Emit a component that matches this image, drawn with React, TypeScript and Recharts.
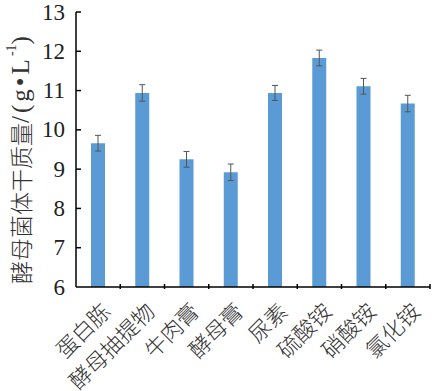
import { BarChart, Bar, XAxis, YAxis, ErrorBar } from 'recharts';

const categories = ['蛋白胨', '酵母抽提物', '牛肉膏', '酵母膏', '尿素', '硫酸铵', '硝酸铵', '氯化铵'];
const values = [9.66, 10.94, 9.25, 8.92, 10.94, 11.83, 11.11, 10.67];
const errors = [0.2, 0.21, 0.2, 0.21, 0.19, 0.2, 0.2, 0.21];
const yTicks = [6, 7, 8, 9, 10, 11, 12, 13];

const data = categories.map((name, i) => ({ name, value: values[i], err: errors[i] }));

const W = 432;
const H = 391;
const M = { top: 12, right: 2, left: 0, bottom: 0 };
const Y_W = 76;
const X_H = 104;
const BAND = (W - M.left - M.right - Y_W) / categories.length;

const SERIF = 'Liberation Serif, Times New Roman, serif';
const CJK = 'Noto Sans CJK SC, Liberation Serif, serif';

const YTick = ({ x, y, payload }: any) => (
  <g>
    <text x={x} y={y} textAnchor="end" dominantBaseline="central" style={{ fontSize: 23, fontFamily: SERIF }} fill="#222">
      {payload.value}
    </text>
    {payload.value !== 6 && <line x1={x + 11} x2={x + 16} y1={y} y2={y} stroke="#000" strokeWidth={1.5} />}
  </g>
);

const XTick = ({ x, y, payload }: any) => (
  <g>
    <line x1={x + BAND / 2} x2={x + BAND / 2} y1={y} y2={y - 5} stroke="#000" strokeWidth={1.5} />
    <text
      x={x + 14}
      y={y + 24}
      textAnchor="end"
      style={{ fontSize: 22, fontFamily: CJK, fontWeight: 300 }}
      fill="#333"
      transform={`rotate(-45, ${x + 14}, ${y + 24})`}
    >
      {payload.value}
    </text>
  </g>
);

export default function App() {
  return (
    <div style={{ position: 'absolute', left: 0, top: 0, background: '#fff' }}>
      <BarChart width={W} height={H} data={data} margin={M} barCategoryGap={0}>
        <XAxis
          dataKey="name"
          height={X_H}
          interval={0}
          tickLine={false}
          tickSize={0}
          tick={<XTick />}
          axisLine={{ stroke: '#000', strokeWidth: 1.5 }}
        />
        <YAxis
          type="number"
          domain={[6, 13]}
          ticks={yTicks}
          width={Y_W}
          tickLine={false}
          tickSize={0}
          tickMargin={11}
          tick={<YTick />}
          axisLine={{ stroke: '#000', strokeWidth: 1.5 }}
          allowDataOverflow
        />
        <Bar dataKey="value" fill="#5b9bd5" barSize={14} isAnimationActive={false}>
          <ErrorBar dataKey="err" width={3} stroke="#555" strokeWidth={1} />
        </Bar>
        <text
          x={20}
          y={160}
          textAnchor="middle"
          dominantBaseline="central"
          transform="rotate(-90, 20, 160)"
          style={{ fontSize: 23, fontFamily: CJK, fontWeight: 300 }}
          fill="#333"
        >
          酵母菌体干质量
          <tspan style={{ fontFamily: SERIF, fontSize: 25 }} letterSpacing={3}>/(g•L</tspan>
          <tspan style={{ fontFamily: SERIF, fontSize: 14 }} dy={-9}>-1</tspan>
          <tspan style={{ fontFamily: SERIF, fontSize: 25 }} dy={9}>)</tspan>
        </text>
      </BarChart>
    </div>
  );
}
